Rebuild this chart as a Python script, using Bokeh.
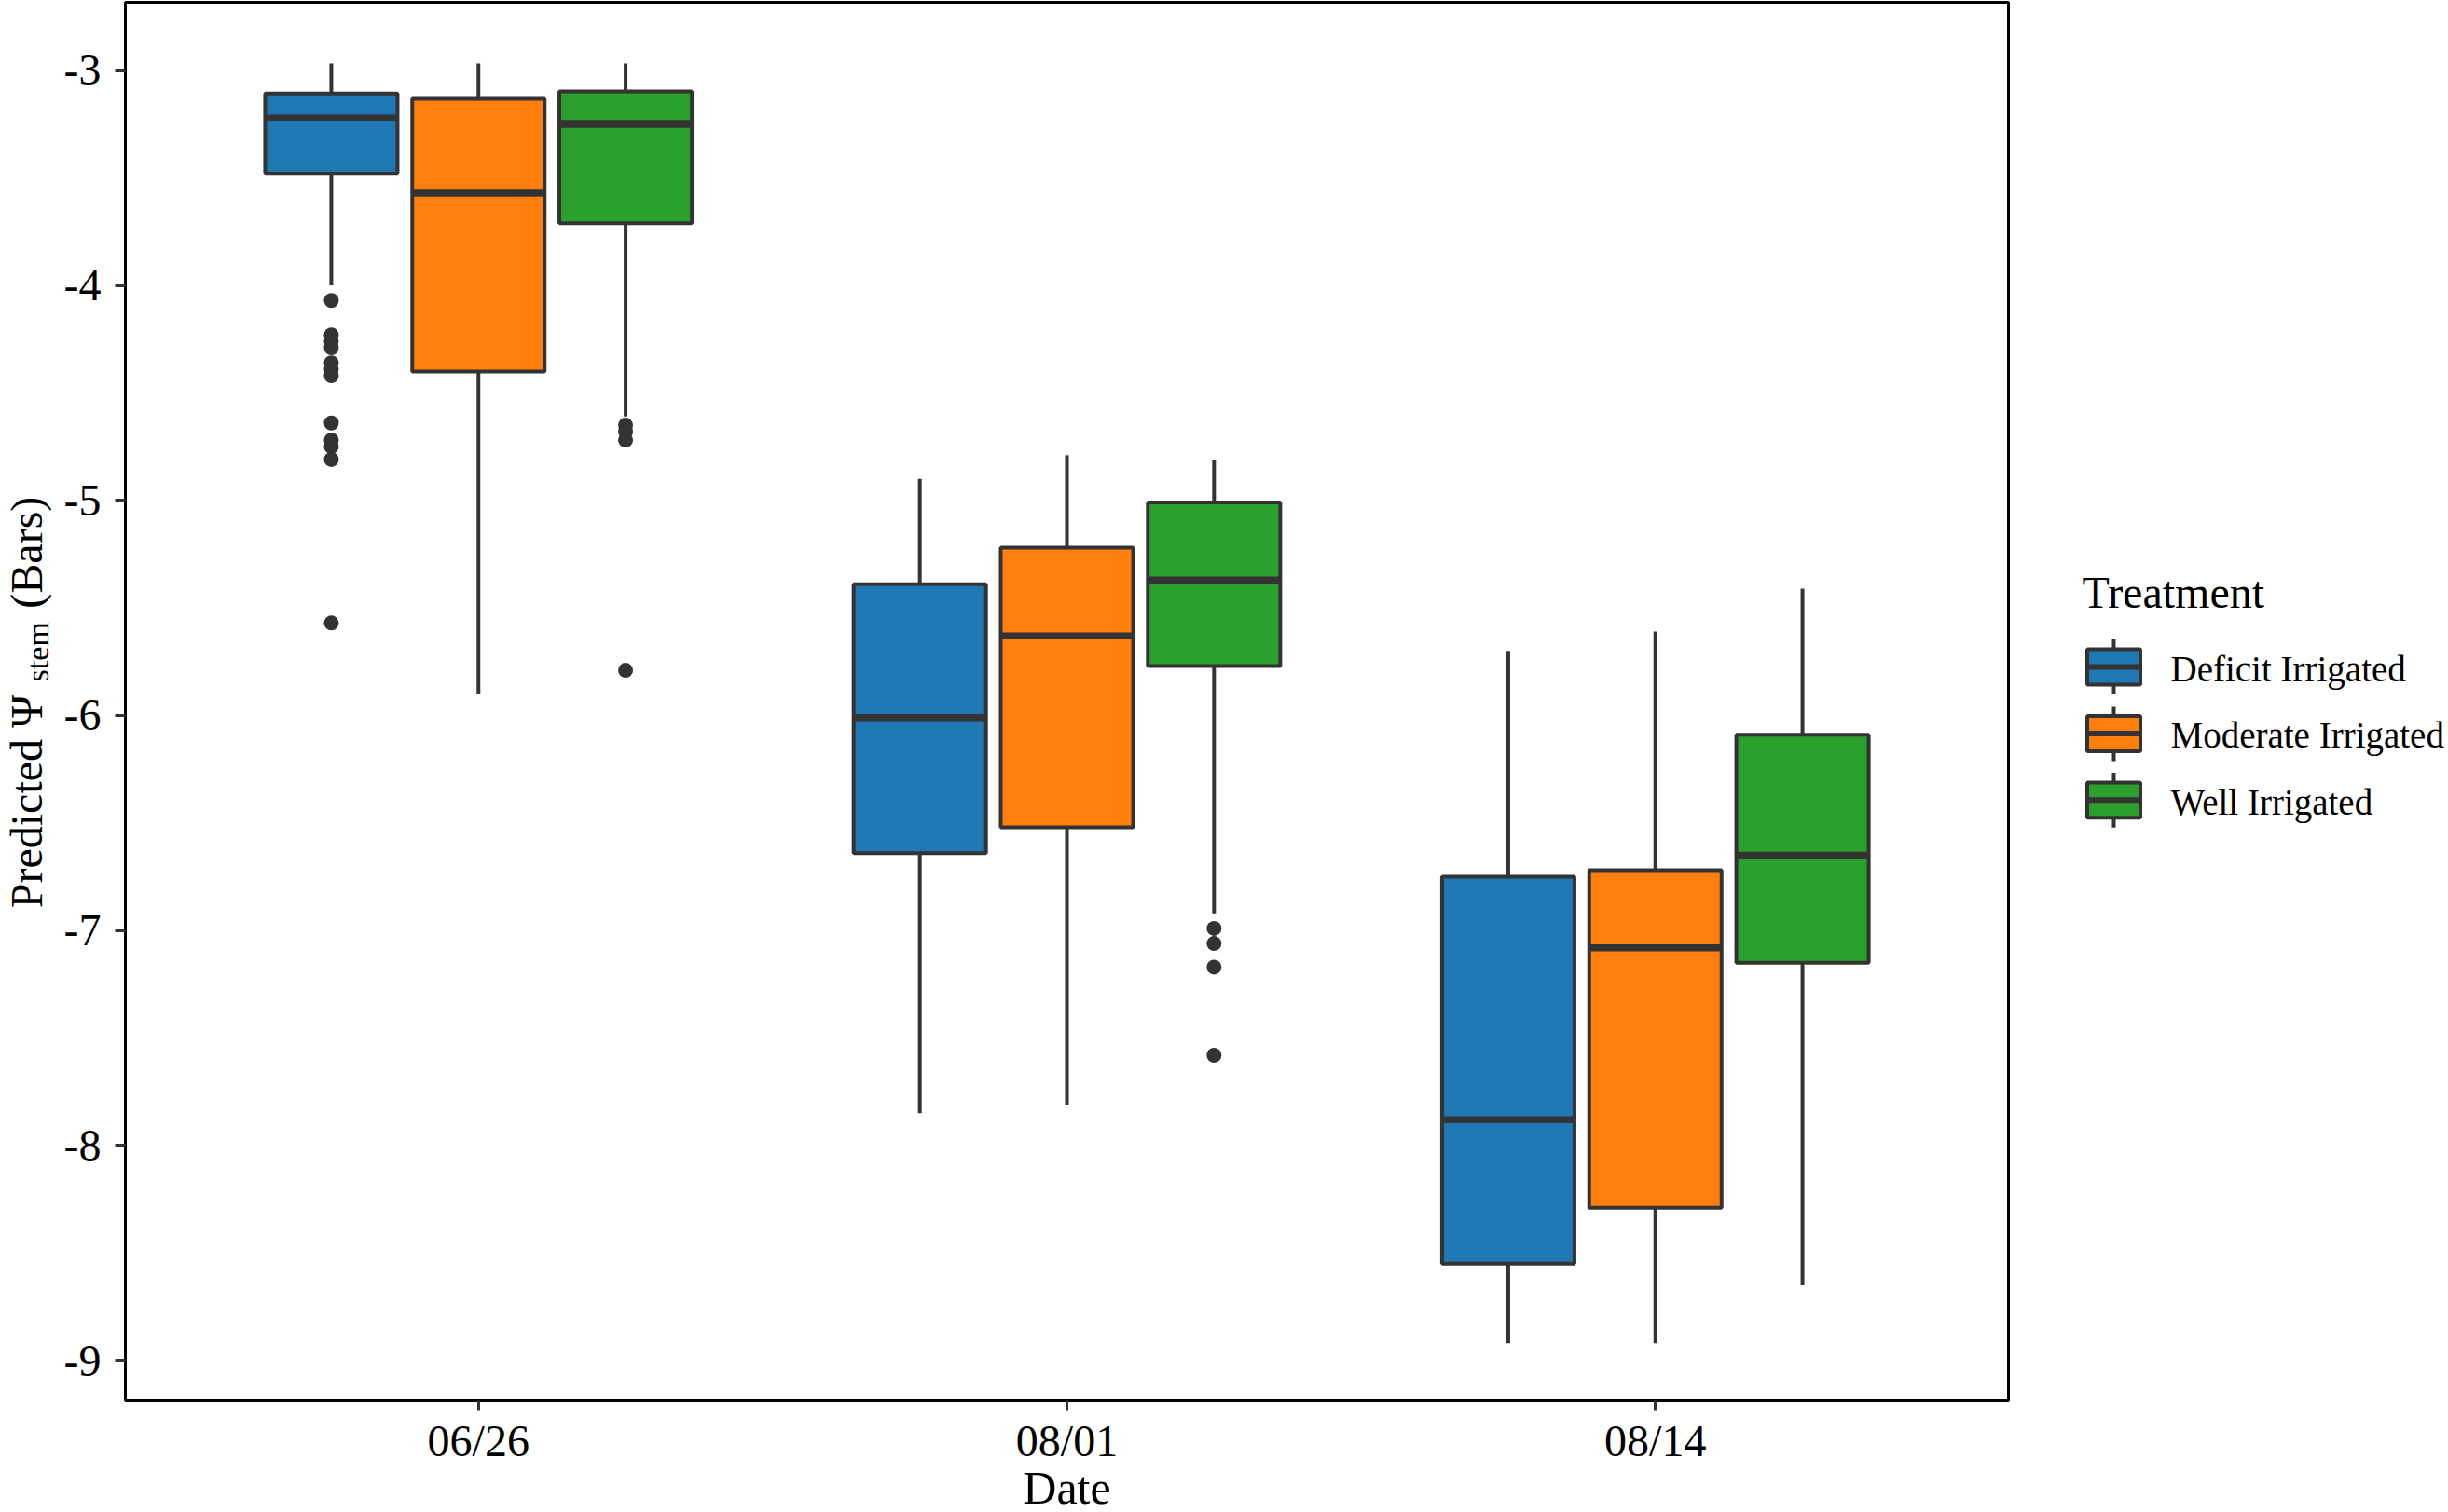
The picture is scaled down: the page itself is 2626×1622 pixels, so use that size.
import numpy as np
from bokeh.plotting import figure
from bokeh.models import Range1d, FixedTicker, ColumnDataSource
from bokeh.layouts import row, column
from bokeh.embed import file_html
from bokeh.resources import INLINE
from bokeh.core.properties import value

# ---------------- data ----------------
dates = ["06/26", "08/01", "08/14"]
treatments = ["Deficit Irrigated", "Moderate Irrigated", "Well Irrigated"]
colors = ["#1f77b4", "#ff7f0e", "#2ca02c"]
y_ticks = [-3, -4, -5, -6, -7, -8, -9]
x_title = "Date"
legend_title = "Treatment"
y_title_parts = ["Predicted \u03a8", "stem", "(Bars)"]

# per treatment, values for the three dates
upper_whisker = {
    "Deficit Irrigated":  [-2.97, -4.90, -5.70],
    "Moderate Irrigated": [-2.97, -4.79, -5.61],
    "Well Irrigated":     [-2.97, -4.81, -5.41],
}
upper_hinge = {
    "Deficit Irrigated":  [-3.11, -5.39, -6.75],
    "Moderate Irrigated": [-3.13, -5.22, -6.72],
    "Well Irrigated":     [-3.10, -5.01, -6.09],
}
median = {
    "Deficit Irrigated":  [-3.22, -6.01, -7.88],
    "Moderate Irrigated": [-3.57, -5.63, -7.08],
    "Well Irrigated":     [-3.25, -5.37, -6.65],
}
lower_hinge = {
    "Deficit Irrigated":  [-3.48, -6.64, -8.55],
    "Moderate Irrigated": [-4.40, -6.52, -8.29],
    "Well Irrigated":     [-3.71, -5.77, -7.15],
}
lower_whisker = {
    "Deficit Irrigated":  [-4.00, -7.85, -8.92],
    "Moderate Irrigated": [-5.90, -7.81, -8.92],
    "Well Irrigated":     [-4.61, -6.92, -8.65],
}
outliers = {
    ("Deficit Irrigated", "06/26"): [-4.07, -4.23, -4.26, -4.29, -4.36, -4.39, -4.42,
                                     -4.64, -4.72, -4.75, -4.81, -5.57],
    ("Well Irrigated", "06/26"): [-4.65, -4.68, -4.72, -5.79],
    ("Well Irrigated", "08/01"): [-6.99, -7.06, -7.17, -7.58],
}

# ---------------- styles / layout ----------------
FONT = "Liberation Serif"
LINE = "#333333"
DODGE = 0.25
BOX_W = 0.225
BOX_LW = 4
MED_LW = 7.5

PAGE_W, PAGE_H = 2624, 1620
ROW_H = 1574
B_TOP, B_BOT = 2, 70
FRAME_TOP, FRAME_BOT = B_TOP, ROW_H - B_BOT
YLAB_W = 60
MAIN_W = 2096
LEG_W = PAGE_W - YLAB_W - MAIN_W
LEG_X0 = YLAB_W + MAIN_W


def side_fig(width, height, x0, x1, y0, y1, b_top=0, b_bot=0):
    f = figure(width=width, height=height, x_range=Range1d(x0, x1), y_range=Range1d(y0, y1),
               output_backend="svg", toolbar_location=None,
               x_axis_location=None, y_axis_location=None,
               min_border_left=0, min_border_right=0,
               min_border_top=b_top, min_border_bottom=b_bot)
    f.outline_line_color = None
    f.grid.visible = False
    f.background_fill_color = "white"
    f.border_fill_color = "white"
    return f


# ---------------- build sources ----------------
bx, top, bot, med, uw, lw, fill = [], [], [], [], [], [], []
for ti, t in enumerate(treatments):
    for di, d in enumerate(dates):
        bx.append(di + 1 + (ti - 1) * DODGE)
        top.append(upper_hinge[t][di])
        bot.append(lower_hinge[t][di])
        med.append(median[t][di])
        uw.append(upper_whisker[t][di])
        lw.append(lower_whisker[t][di])
        fill.append(colors[ti])
bx = np.array(bx)
src = ColumnDataSource(dict(x=bx, top=top, bottom=bot, med=med, uw=uw, lw=lw,
                            fill=fill, x0=bx - BOX_W / 2, x1=bx + BOX_W / 2))

ox, oy = [], []
for (t, d), vals in outliers.items():
    xpos = dates.index(d) + 1 + (treatments.index(t) - 1) * DODGE
    for v in vals:
        ox.append(xpos)
        oy.append(v)

# ---------------- main figure ----------------
p = figure(width=MAIN_W, height=ROW_H, x_range=Range1d(0.4, 3.6), y_range=Range1d(-9.186, -2.684),
           output_backend="svg", toolbar_location=None,
           min_border_left=74, min_border_right=2, min_border_top=B_TOP, min_border_bottom=B_BOT)
p.background_fill_color = "white"
p.border_fill_color = "white"
p.outline_line_color = "black"
p.outline_line_width = 3
p.grid.visible = False

p.segment(x0="x", x1="x", y0="top", y1="uw", source=src, line_color=LINE, line_width=BOX_LW)
p.segment(x0="x", x1="x", y0="bottom", y1="lw", source=src, line_color=LINE, line_width=BOX_LW)
p.vbar(x="x", width=BOX_W, top="top", bottom="bottom", source=src,
       fill_color="fill", line_color=LINE, line_width=BOX_LW)
p.segment(x0="x0", x1="x1", y0="med", y1="med", source=src, line_color=LINE, line_width=MED_LW)
p.scatter(ox, oy, size=16, fill_color=LINE, line_color=LINE, line_width=0)

for ax in (p.xaxis[0], p.yaxis[0]):
    ax.axis_line_color = None
    ax.major_tick_line_color = LINE
    ax.major_tick_line_width = 3
    ax.major_tick_out = 11
    ax.major_tick_in = 0
    ax.minor_tick_line_color = None
    ax.major_label_text_font = FONT
    ax.major_label_text_font_size = "48px"
    ax.major_label_text_color = "black"

p.xaxis.major_label_standoff = 5
p.yaxis.major_label_standoff = 15
p.xaxis.ticker = FixedTicker(ticks=list(range(1, len(dates) + 1)))
p.xaxis.major_label_overrides = {i + 1: d for i, d in enumerate(dates)}
p.yaxis.ticker = FixedTicker(ticks=y_ticks)
p.yaxis.major_label_overrides = {v: str(v) for v in y_ticks}

# ---------------- y-axis title (left strip, page coordinates) ----------------
ylab = side_fig(YLAB_W, ROW_H, 0, YLAB_W, PAGE_H - FRAME_BOT, PAGE_H - FRAME_TOP, B_TOP, B_BOT)
ylab_x = [28, 40, 28]
ylab_start = [975, 732, 653]
ylab_size = ["48px", "34px", "48px"]
for txt, xx, yy, fs in zip(y_title_parts, ylab_x, ylab_start, ylab_size):
    ylab.text(x=[xx], y=[PAGE_H - yy], text=[txt], angle=np.pi / 2,
              text_font=value(FONT), text_font_size=fs, text_align="left",
              text_baseline="alphabetic", text_color="black")

# ---------------- legend (right strip, page coordinates) ----------------
leg = side_fig(LEG_W, ROW_H, LEG_X0, PAGE_W, PAGE_H - FRAME_BOT, PAGE_H - FRAME_TOP, B_TOP, B_BOT)
TITLE_X, TITLE_Y = 2233, 636
KEY_X, KEY_Y0, KEY_DY = 2267, 716, 71.5
KEY_W, KEY_H, WHISK = 57, 38, 29.5
LABEL_X, LABEL_DY = 2328, 2

n = len(treatments)
ky = PAGE_H - np.array([KEY_Y0 + i * KEY_DY for i in range(n)])
kx = np.full(n, KEY_X, dtype=float)
leg.segment(x0=kx, x1=kx, y0=ky - WHISK, y1=ky + WHISK, line_color=LINE, line_width=BOX_LW)
leg.rect(x=kx, y=ky, width=KEY_W, height=KEY_H, fill_color=colors, line_color=LINE,
         line_width=BOX_LW)
leg.segment(x0=kx - KEY_W / 2, x1=kx + KEY_W / 2, y0=ky, y1=ky, line_color=LINE, line_width=6)
leg.text(x=np.full(n, LABEL_X), y=ky - LABEL_DY, text=treatments,
         text_font=value(FONT), text_font_size="39px", text_baseline="alphabetic",
         text_align="left", text_color="black")
leg.text(x=[TITLE_X], y=[PAGE_H - TITLE_Y], text=[legend_title], text_font=value(FONT),
         text_font_size="48px", text_baseline="alphabetic", text_align="left",
         text_color="black")

# ---------------- x-axis title (bottom strip, page coordinates) ----------------
STRIP_H = PAGE_H - ROW_H
xlab = side_fig(PAGE_W, STRIP_H, 0, PAGE_W, 0, STRIP_H)
xlab.text(x=[(134 + 2154) / 2], y=[25], text=[x_title], text_font=value(FONT),
          text_font_size="50px", text_align="center", text_baseline="alphabetic",
          text_color="black")

layout = column(row(ylab, p, leg), xlab)
open("out.html", "w").write(file_html(layout, INLINE))
